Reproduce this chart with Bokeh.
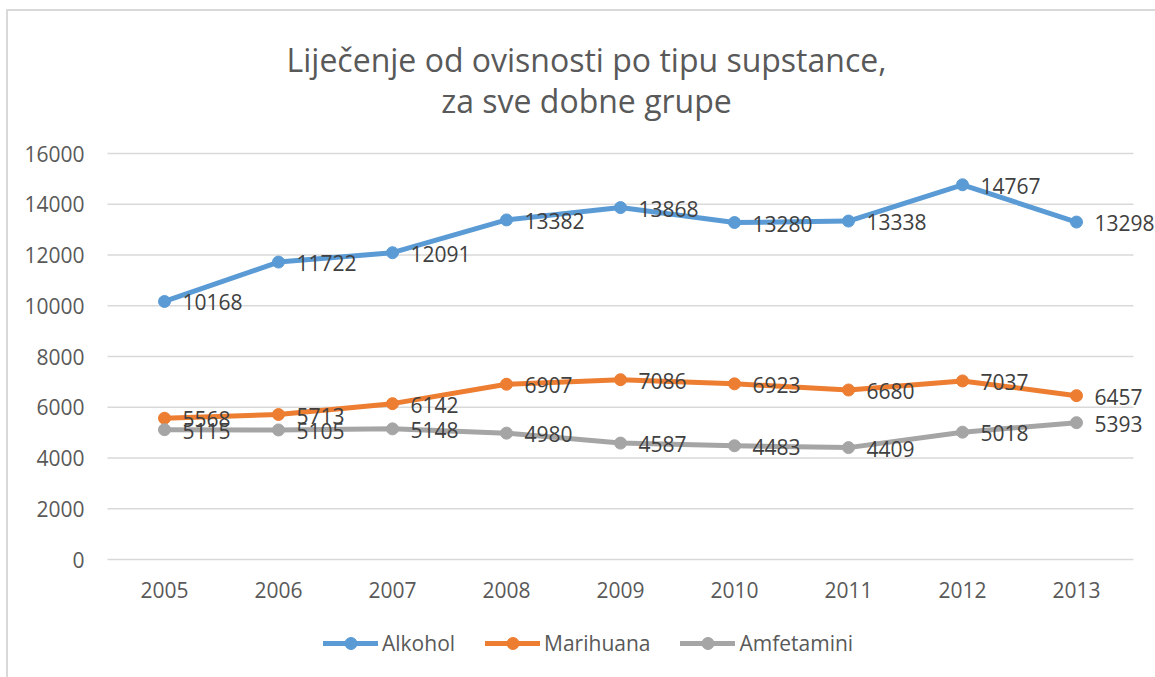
from bokeh.plotting import figure
from bokeh.models import Range1d, FixedTicker, Legend, LegendItem, NumeralTickFormatter
from bokeh.core.properties import value
from bokeh.embed import file_html
from bokeh.resources import INLINE

# ---- data ----
years = ["2005", "2006", "2007", "2008", "2009", "2010", "2011", "2012", "2013"]
alkohol = [10168, 11722, 12091, 13382, 13868, 13280, 13338, 14767, 13298]
marihuana = [5568, 5713, 6142, 6907, 7086, 6923, 6680, 7037, 6457]
amfetamini = [5115, 5105, 5148, 4980, 4587, 4483, 4409, 5018, 5393]
series_names = ["Alkohol", "Marihuana", "Amfetamini"]
series_colors = ["#5B9BD5", "#ED7D31", "#A5A5A5"]
y_ticks = [0, 2000, 4000, 6000, 8000, 10000, 12000, 14000, 16000]
title_lines = ["Liječenje od ovisnosti po tipu supstance,", "za sve dobne grupe"]

FONT = "Open Sans"
TXT = "#595959"

# ---- layout constants (pixels) ----
W, H = 1155, 677
PLOT_L = 107            # left edge of plotting area (px)
ZERO_Y = 559            # pixel row of value 0
PX_X = 114              # px per category
PX_Y = 406 / 16000      # px per unit


def px_x(px):
    return -0.5 + (px - PLOT_L) / PX_X


def px_y(py):
    return (ZERO_Y - py) / PX_Y


x = list(range(len(years)))
n = len(years)

p = figure(width=W, height=H, output_backend="svg", toolbar_location=None, title=None,
           x_range=Range1d(px_x(0), px_x(W)), y_range=Range1d(px_y(H), px_y(0)),
           min_border_left=0, min_border_right=0, min_border_top=0, min_border_bottom=0)
p.outline_line_color = None
p.xgrid.visible = False
p.ygrid.visible = False

# chart-area border (left and top edges)
p.segment(x0=[px_x(6.5), px_x(6)], x1=[px_x(6.5), px_x(W)],
          y0=[px_y(9), px_y(9.5)], y1=[px_y(H), px_y(9.5)],
          line_color="#D9D9D9", line_width=2)

# gridlines
p.segment(x0=-0.5, x1=n - 0.5, y0=y_ticks, y1=y_ticks, line_color="#D9D9D9", line_width=1.5)

# axes (drawn at fixed positions inside the canvas)
p.yaxis.ticker = FixedTicker(ticks=y_ticks)
p.yaxis.formatter = NumeralTickFormatter(format="0")
p.yaxis.fixed_location = -0.5
p.xaxis.ticker = FixedTicker(ticks=x)
p.xaxis.major_label_overrides = {i: y for i, y in enumerate(years)}
p.xaxis.fixed_location = 0
for ax in (p.xaxis, p.yaxis):
    ax.axis_line_color = None
    ax.major_tick_line_color = None
    ax.minor_tick_line_color = None
    ax.major_label_text_font = FONT
    ax.major_label_text_font_size = "21px"
    ax.major_label_text_color = TXT
p.yaxis.major_label_standoff = 17
p.xaxis.major_label_standoff = 16

items = []
all_series = [alkohol, marihuana, amfetamini]
for name, col, vals in zip(series_names, series_colors, all_series):
    l = p.line(x, vals, line_color=col, line_width=5, line_join="round", line_cap="round")
    s = p.scatter(x, vals, size=12, fill_color=col, line_color=col)
    items.append(LegendItem(label=name, renderers=[l, s]))

for vals in all_series:
    p.text(x=x, y=vals, text=[str(v) for v in vals], x_offset=18, y_offset=1,
           text_align="left", text_baseline="middle", text_font=value(FONT),
           text_font_size="21px", text_color="#404040")

# chart title (two centred lines)
p.text(x=[px_x(586), px_x(586)], y=[px_y(59), px_y(100)], text=title_lines,
       text_align="center", text_baseline="middle", text_font=value(FONT),
       text_font_size="32px", text_color=TXT)

legend = Legend(items=items, orientation="horizontal", location=(323, 19),
                glyph_width=55, glyph_height=30, label_standoff=4, spacing=30,
                padding=0, margin=0, border_line_color=None, background_fill_alpha=0,
                label_text_font=FONT, label_text_font_size="21px", label_text_color=TXT)
p.add_layout(legend, "center")

open("out.html", "w").write(file_html(p, INLINE))
